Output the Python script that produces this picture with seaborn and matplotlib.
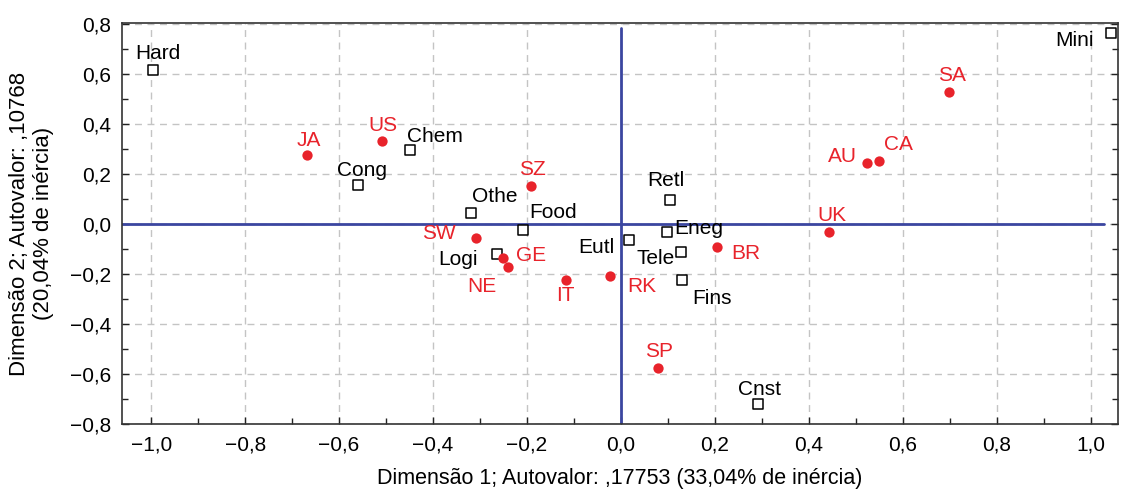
import numpy as np
import pandas as pd
import matplotlib
matplotlib.use("Agg")
import matplotlib.pyplot as plt
from matplotlib.ticker import MultipleLocator, FuncFormatter
import seaborn as sns

# column points (industries) - open squares
ind_labels = ["Hard", "Chem", "Cong", "Othe", "Food", "Logi", "Eutl",
              "Retl", "Eneg", "Tele", "Fins", "Cnst", "Mini"]
ind_x = [-0.996, -0.449, -0.560, -0.319, -0.209, -0.264, 0.017,
         0.104, 0.098, 0.128, 0.130, 0.291, 1.043]
ind_y = [0.617, 0.297, 0.158, 0.046, -0.022, -0.118, -0.062,
         0.098, -0.030, -0.110, -0.225, -0.720, 0.764]

# row points (countries) - red dots
ctry_labels = ["JA", "US", "SZ", "SW", "GE", "NE", "IT", "RK",
               "BR", "SP", "UK", "AU", "CA", "SA"]
ctry_x = [-0.668, -0.509, -0.191, -0.309, -0.251, -0.240, -0.117, -0.023,
          0.204, 0.079, 0.443, 0.523, 0.549, 0.698]
ctry_y = [0.277, 0.333, 0.154, -0.054, -0.134, -0.170, -0.225, -0.209,
          -0.090, -0.577, -0.030, 0.245, 0.253, 0.529]

# label offsets (pixels, x right / y up)
label_offsets = {
    "Hard": (5, 16), "Chem": (25, 13), "Cong": (4, 14), "Othe": (24, 16),
    "Food": (30, 17), "Logi": (-39, -6), "Eutl": (-33, -8), "Retl": (-4, 19),
    "Eneg": (32, 3), "Tele": (-25, -7), "Fins": (30, -18), "Cnst": (2, 15),
    "Mini": (-36, -7),
    "JA": (2, 14), "US": (1, 15), "SZ": (1, 16), "SW": (-37, 4),
    "GE": (28, 2), "NE": (-26, -20), "IT": (-1, -15), "RK": (32, -10),
    "BR": (29, -7), "SP": (1, 17), "UK": (3, 16), "AU": (-24, 6),
    "CA": (20, 16), "SA": (3, 16),
}

RED = "#e8232b"
BLUE = "#3b46a0"

sns.set_theme(style="white")
plt.rcParams["font.family"] = ["Liberation Sans", "DejaVu Sans"]
plt.rcParams["axes.unicode_minus"] = True
plt.rcParams["text.color"] = "black"
plt.rcParams["axes.labelcolor"] = "black"
plt.rcParams["xtick.color"] = "black"
plt.rcParams["ytick.color"] = "black"

ind = pd.DataFrame({"x": ind_x, "y": ind_y, "label": ind_labels})
ctry = pd.DataFrame({"x": ctry_x, "y": ctry_y, "label": ctry_labels})

fig = plt.figure(figsize=(11.3, 4.96), dpi=100)
ax = fig.add_axes([0.108, 0.145, 0.881, 0.809])

ax.grid(True, which="major", color="#c4c4c4", linestyle=(0, (5, 4)), linewidth=1)
ax.set_axisbelow(True)

ax.axhline(0, xmin=0, xmax=0.986, color=BLUE, linewidth=2, zorder=2)
ax.axvline(0, ymin=0, ymax=0.987, color=BLUE, linewidth=2, zorder=2)

sns.scatterplot(data=ind, x="x", y="y", ax=ax, marker="s", s=42,
                facecolor="white", edgecolor="black", linewidth=1.1, zorder=3)
sns.scatterplot(data=ctry, x="x", y="y", ax=ax, marker="o", s=55,
                color=RED, edgecolor=RED, linewidth=0, zorder=3)

for df, col in ((ind, "black"), (ctry, RED)):
    for _, r in df.iterrows():
        dx, dy = label_offsets[r["label"]]
        ax.annotate(r["label"], (r["x"], r["y"]), xytext=(dx, dy),
                    textcoords="offset pixels", ha="center", va="center",
                    fontsize=15, color=col, zorder=4)

ax.set_xlim(-1.062, 1.057)
ax.set_ylim(-0.8, 0.805)
ax.xaxis.set_major_locator(MultipleLocator(0.2))
ax.xaxis.set_minor_locator(MultipleLocator(0.1))
ax.yaxis.set_major_locator(MultipleLocator(0.2))
ax.yaxis.set_minor_locator(MultipleLocator(0.1))

fmt = FuncFormatter(lambda v, p: f"{v:.1f}".replace(".", ",").replace("-", "\u2212")
                    if abs(v) > 1e-9 else "0,0")
ax.xaxis.set_major_formatter(fmt)
ax.yaxis.set_major_formatter(fmt)

ax.tick_params(which="both", direction="in", bottom=True, left=True, right=True,
               top=False, color="#222222", labelsize=15, pad=8)
ax.tick_params(which="major", length=5, width=1)
ax.tick_params(which="minor", length=4, width=1)

for s in ax.spines.values():
    s.set_color("#333333")
    s.set_linewidth(1.2)

ax.set_xlabel("Dimensão 1; Autovalor: ,17753 (33,04% de inércia)", fontsize=15.5, labelpad=10)
ax.set_ylabel("Dimensão 2; Autovalor: ,10768\n(20,04% de inércia)", fontsize=16, labelpad=11)

fig.savefig("out.png", dpi=100)
